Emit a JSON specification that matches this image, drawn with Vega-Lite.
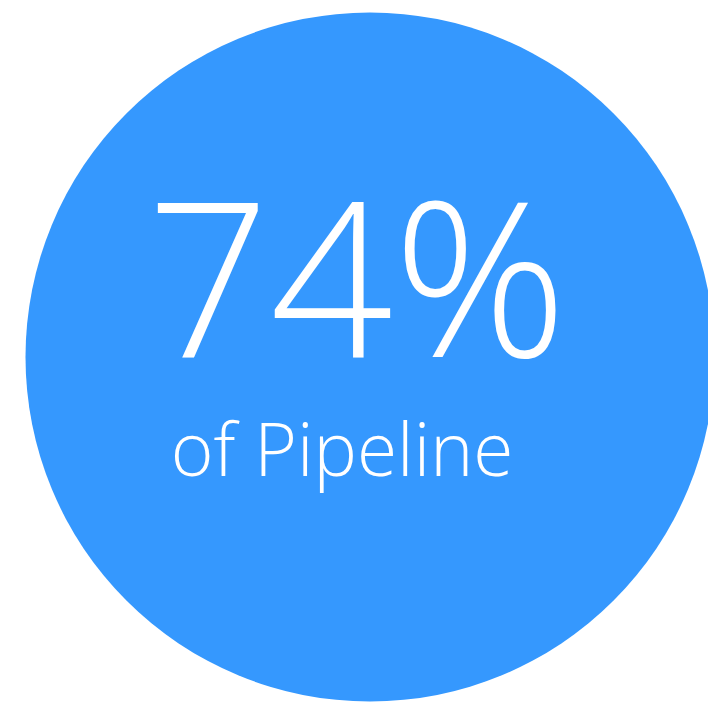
{
  "$schema": "https://vega.github.io/schema/vega-lite/v6.json",
  "width": 690,
  "height": 690,
  "padding": {"left": 25, "top": 12, "right": 0, "bottom": 0},
  "autosize": {"type": "none"},
  "background": "white",
  "view": {"stroke": null},
  "data": {"values": [{"value": 1, "label": "74%", "sub": "of Pipeline"}]},
  "layer": [
    {
      "mark": {"type": "arc", "radius": 344.5, "color": "#3598fe", "stroke": null},
      "encoding": {"theta": {"field": "value", "type": "quantitative", "stack": true}}
    },
    {
      "mark": {"type": "text", "font": "Open Sans", "fontWeight": 300, "fontSize": 216, "color": "white", "align": "center", "baseline": "alphabetic", "dx": -13, "dy": 0},
      "encoding": {"text": {"field": "label", "type": "nominal"}}
    },
    {
      "mark": {"type": "text", "font": "Open Sans", "fontWeight": 300, "fontSize": 73, "color": "white", "align": "center", "baseline": "alphabetic", "dx": -28, "dy": 119},
      "encoding": {"text": {"field": "sub", "type": "nominal"}}
    }
  ]
}
